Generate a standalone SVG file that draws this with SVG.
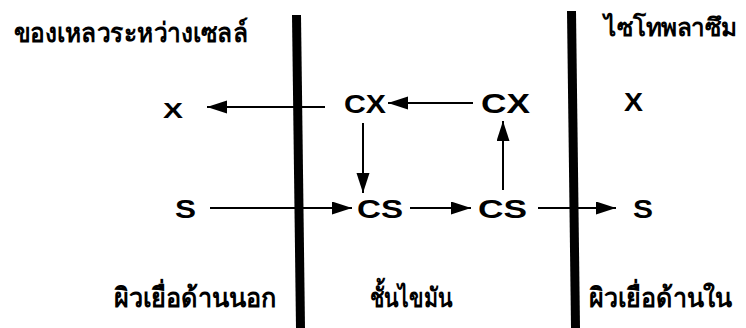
<svg xmlns="http://www.w3.org/2000/svg" width="746" height="328" viewBox="0 0 746 328">
  <style>
    .lat { font-family: "Liberation Sans", Arial, sans-serif; font-weight: bold; fill: #000; }
    .th { font-family: "Noto Sans", "DejaVu Sans", sans-serif; font-weight: bold; fill: #000; }
    .conn { stroke: #000; stroke-width: 2; fill: none; }
  </style>
  <defs>
    <marker id="head" markerUnits="userSpaceOnUse" markerWidth="22" markerHeight="14" refX="20" refY="6.5" orient="auto">
      <path d="M0,0 L20,6.5 L0,13 Z" fill="#000"/>
    </marker>
  </defs>
  <rect width="746" height="328" fill="#fff"/>

  <!-- membrane walls -->
  <g id="walls">
    <polygon points="292,15 301,15 305,328 296,328" fill="#000"/>
    <polygon points="567,11 576,11 580,328 571,328" fill="#000"/>
  </g>

  <!-- region captions -->
  <g id="captions">
    <text class="th" x="14" y="42" font-size="27" textLength="234" lengthAdjust="spacingAndGlyphs">ของเหลวระหว่างเซลล์</text>
    <text class="th" x="604" y="36" font-size="25" textLength="133" lengthAdjust="spacingAndGlyphs">ไซโทพลาซึม</text>
    <text class="th" x="114" y="307" font-size="27" textLength="162" lengthAdjust="spacingAndGlyphs">ผิวเยื่อด้านนอก</text>
    <text class="th" x="370" y="307" font-size="27" textLength="82" lengthAdjust="spacingAndGlyphs">ชั้นไขมัน</text>
    <text class="th" x="589" y="307" font-size="27" textLength="143" lengthAdjust="spacingAndGlyphs">ผิวเยื่อด้านใน</text>
  </g>

  <!-- species nodes -->
  <g id="x-out"><text class="lat" x="163" y="118" font-size="22" textLength="20" lengthAdjust="spacingAndGlyphs">X</text></g>
  <g id="cx-mid"><text class="lat" x="344" y="113" font-size="26" textLength="42" lengthAdjust="spacingAndGlyphs">CX</text></g>
  <g id="cx-in"><text class="lat" x="481" y="113" font-size="27" textLength="49" lengthAdjust="spacingAndGlyphs">CX</text></g>
  <g id="x-in"><text class="lat" x="624" y="111" font-size="25" textLength="19" lengthAdjust="spacingAndGlyphs">X</text></g>
  <g id="s-out"><text class="lat" x="175" y="218" font-size="26" textLength="21" lengthAdjust="spacingAndGlyphs">S</text></g>
  <g id="cs-mid"><text class="lat" x="357" y="218" font-size="26" textLength="46" lengthAdjust="spacingAndGlyphs">CS</text></g>
  <g id="cs-in"><text class="lat" x="478" y="218" font-size="26" textLength="49" lengthAdjust="spacingAndGlyphs">CS</text></g>
  <g id="s-in"><text class="lat" x="633" y="218" font-size="26" textLength="20" lengthAdjust="spacingAndGlyphs">S</text></g>

  <!-- transport connectors -->
  <g id="connectors" class="conn">
    <line x1="325" y1="107" x2="207" y2="107" marker-end="url(#head)"/>
    <line x1="473" y1="103" x2="388" y2="103" marker-end="url(#head)"/>
    <line x1="363" y1="123" x2="363" y2="193" marker-end="url(#head)"/>
    <line x1="503" y1="190" x2="503" y2="121" marker-end="url(#head)"/>
    <line x1="210" y1="208" x2="352" y2="208" marker-end="url(#head)"/>
    <line x1="410" y1="208" x2="471" y2="208" marker-end="url(#head)"/>
    <line x1="538" y1="208" x2="616" y2="208" marker-end="url(#head)"/>
  </g>
</svg>
